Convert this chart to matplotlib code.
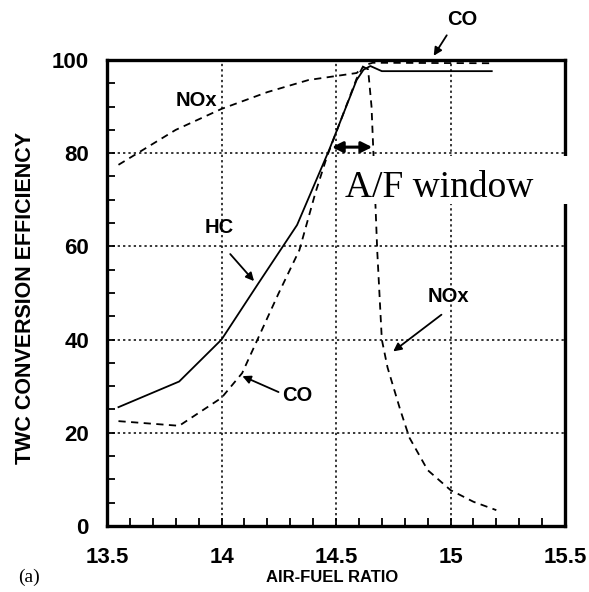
import matplotlib
matplotlib.use('Agg')
import matplotlib.pyplot as plt
from matplotlib.patches import Rectangle
from matplotlib.ticker import MultipleLocator

# Three-way catalyst conversion efficiency vs air-fuel ratio
hc_afr = [13.55, 13.815, 14.0, 14.16, 14.33, 14.47, 14.59, 14.62, 14.65, 14.70, 15.18]
hc_eff = [25.5, 31.0, 40.0, 52.0, 64.6, 80.7, 95.7, 97.9, 98.7, 97.6, 97.6]

co_afr = [13.55, 13.815, 14.0, 14.09, 14.25, 14.34, 14.41, 14.46, 14.59, 14.62, 14.66, 15.18]
co_eff = [22.5, 21.5, 27.5, 32.8, 50.0, 59.2, 71.5, 79.2, 96.0, 98.8, 99.4, 99.3]

nox_afr = [13.55, 13.8, 14.0, 14.2, 14.38, 14.59, 14.62, 14.64, 14.655, 14.665, 14.68,
           14.70, 14.725, 14.78, 14.82, 14.90, 15.0, 15.1, 15.2]
nox_eff = [77.5, 85.0, 89.5, 93.1, 95.7, 97.2, 98.5, 98.0, 90.0, 78.0, 59.0,
           40.0, 34.0, 25.0, 19.0, 12.0, 7.7, 5.2, 3.4]

x_ticks = [13.5, 14, 14.5, 15, 15.5]
x_tick_labels = ['13.5', '14', '14.5', '15', '15.5']
y_ticks = [0, 20, 40, 60, 80, 100]

fig = plt.figure(figsize=(5.89, 5.92), dpi=100)
ax = fig.add_axes([0.1817, 0.1115, 0.7776, 0.7872])

bold = dict(family='Liberation Sans', fontweight='bold')

# grid lines (dotted), skipping the frame edges
for xv in [14, 14.5, 15]:
    ax.axvline(xv, color='black', linestyle=(0, (1.5, 2)), linewidth=1.1, zorder=1)
for yv in [20, 40, 60, 80]:
    ax.axhline(yv, color='black', linestyle=(0, (1.5, 2)), linewidth=1.1, zorder=1)

ax.plot(hc_afr, hc_eff, color='black', linewidth=1.3, zorder=3)
ax.plot(co_afr, co_eff, color='black', linewidth=1.3, linestyle=(0, (4, 3)), zorder=3)
ax.plot(nox_afr, nox_eff, color='black', linewidth=1.3, linestyle=(0, (4, 3)), zorder=3)

ax.set_xlim(13.5, 15.5)
ax.set_ylim(0, 100)
ax.set_xticks(x_ticks)
ax.set_xticklabels(x_tick_labels)
ax.set_yticks(y_ticks)
ax.xaxis.set_minor_locator(MultipleLocator(0.1))
ax.yaxis.set_minor_locator(MultipleLocator(5))
ax.tick_params(axis='both', which='both', direction='in', length=6, width=1.3)
ax.tick_params(axis='x', which='major', pad=15, labelsize=16)
ax.tick_params(axis='y', which='major', pad=13, labelsize=16)
for label in ax.get_xticklabels() + ax.get_yticklabels():
    label.set_fontfamily('Liberation Sans')
    label.set_fontweight('bold')
for s in ax.spines.values():
    s.set_linewidth(2.4)

fig.text(0.564, 0.024, 'AIR-FUEL RATIO', ha='center', va='center', fontsize=12, **bold)
fig.text(0.043, 0.497, 'TWC CONVERSION EFFICIENCY', rotation=90, ha='center',
         va='center', fontsize=15.5, **bold)

# curve labels
ax.text(13.89, 91.4, 'NOx', ha='center', va='center', fontsize=14.5, **bold)
ax.text(13.99, 64.0, 'HC', ha='center', va='center', fontsize=14.5, **bold)
ax.text(14.33, 28.1, 'CO', ha='center', va='center', fontsize=14.5, **bold)
ax.text(14.99, 49.2, 'NOx', ha='center', va='center', fontsize=14.5, **bold)
ax.text(15.05, 108.6, 'CO', ha='center', va='center', fontsize=14.5, clip_on=False, **bold)

arrow = dict(arrowstyle='-|>', color='black', lw=1.3, mutation_scale=12)
ax.annotate('', xy=(14.15, 52.1), xytext=(14.03, 58.8), arrowprops=arrow)
ax.annotate('', xy=(14.08, 32.4), xytext=(14.26, 28.5), arrowprops=arrow)
ax.annotate('', xy=(14.74, 37.1), xytext=(14.97, 45.7), arrowprops=arrow)
ax.annotate('', xy=(14.92, 100.4), xytext=(14.99, 105.8), arrowprops=arrow,
            annotation_clip=False)

# A/F window
ax.annotate('', xy=(14.47, 81.3), xytext=(14.67, 81.3),
            arrowprops=dict(arrowstyle='<|-|>', color='black', lw=2.2,
                            mutation_scale=16), zorder=5)
ax.add_patch(Rectangle((14.52, 69.0), 1.06, 10.3, facecolor='white',
                       edgecolor='none', clip_on=False, zorder=6))
ax.text(14.54, 70.5, 'A/F window', fontsize=27, family='Liberation Serif',
        ha='left', va='baseline', zorder=7)

fig.text(0.03, 0.024, '(a)', fontsize=14, family='Liberation Serif',
         ha='left', va='center')

fig.savefig('out.png', dpi=100)
